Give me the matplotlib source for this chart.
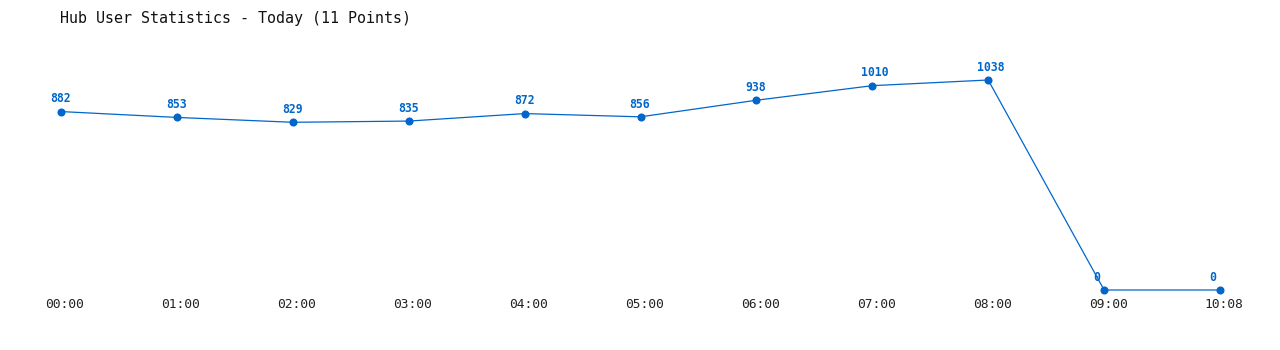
import matplotlib
matplotlib.use('Agg')
import matplotlib.pyplot as plt
import matplotlib.transforms as mtransforms

# Data
times = ['00:00', '01:00', '02:00', '03:00', '04:00', '05:00',
         '06:00', '07:00', '08:00', '09:00', '10:08']
users = [882, 853, 829, 835, 872, 856, 938, 1010, 1038, 0, 0]

blue = '#0066cc'
font = 'DejaVu Sans Mono'

fig = plt.figure(figsize=(12.8, 3.5), dpi=100)
fig.patch.set_facecolor('white')

# axes placed so point 0 is at x=61px and point 10 at x=1220px
ax = fig.add_axes([61 / 1280, 60 / 350, (1220 - 61) / 1280, 210 / 350])
x = list(range(len(users)))
ax.plot(x, users, color=blue, linewidth=0.9, marker='o', markersize=4.8,
        clip_on=False, zorder=3)
ax.set_xlim(0, len(users) - 1)
ax.set_ylim(0, 1038)

# value labels: left edge sits a bit left of the point
for xi, v in zip(x, users):
    ax.annotate(str(v), (xi, v), xytext=(-7.8, 4.5), textcoords='offset points',
                ha='left', va='bottom', color=blue, fontsize=8.3,
                fontweight='bold', family=font)

ax.set_xticks(x)
ax.set_xticklabels(times, family=font, fontsize=9.3, color='#222222')
ax.tick_params(axis='x', length=0, pad=6)
ax.set_yticks([])
for s in ax.spines.values():
    s.set_visible(False)

# shift tick labels a little right like the reference
offset = mtransforms.ScaledTranslation(4 / 100, 0, fig.dpi_scale_trans)
for lbl in ax.get_xticklabels():
    lbl.set_transform(lbl.get_transform() + offset)

fig.text(60 / 1280, 1 - 18 / 350, 'Hub User Statistics - Today (11 Points)',
         family=font, fontsize=10.8, color='#111111', ha='left', va='center')

fig.savefig('out.png', dpi=100, facecolor='white')
